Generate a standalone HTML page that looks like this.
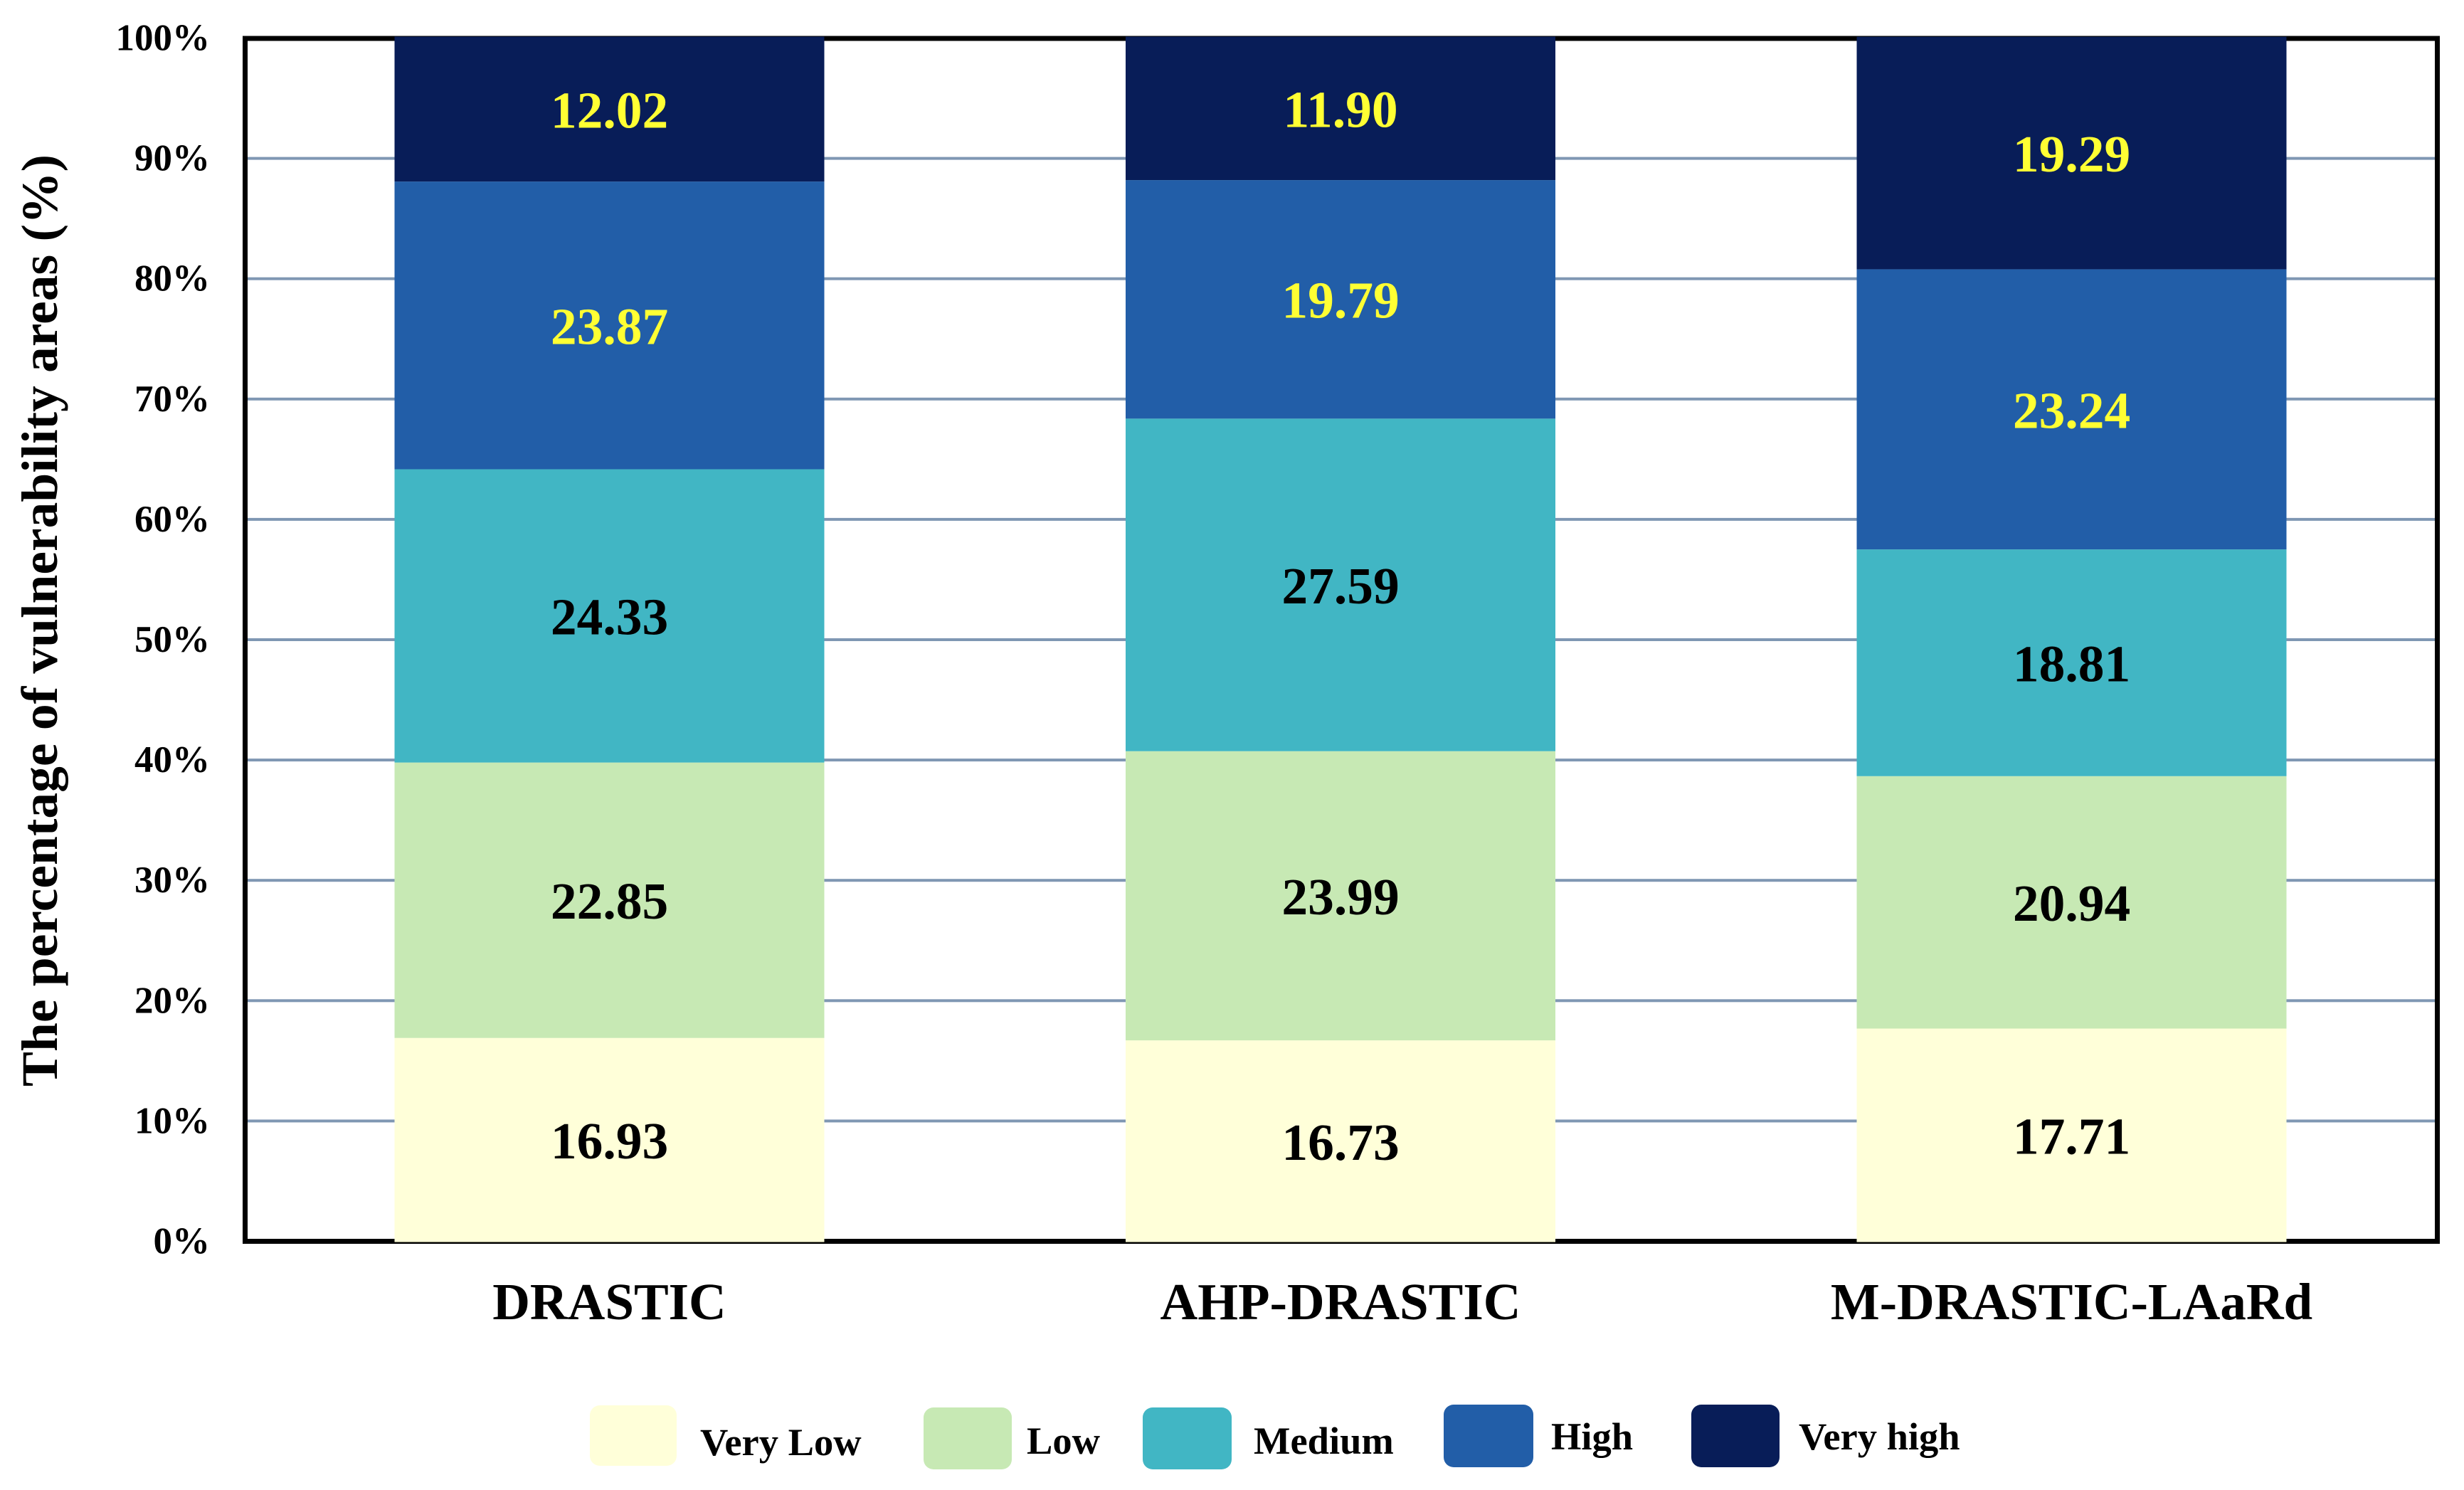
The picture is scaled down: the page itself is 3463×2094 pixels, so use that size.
<!DOCTYPE html>
<html lang="en">
<head>
<meta charset="utf-8">
<title>Vulnerability areas by model</title>
<style>
  html, body { margin: 0; padding: 0; background: #fff; }
  svg { display: block; font-family: "Liberation Serif", "DejaVu Serif", serif; font-weight: bold; }
</style>
</head>
<body>
<svg id="chart" xmlns="http://www.w3.org/2000/svg" width="3463" height="2094" viewBox="0 0 3463 2094">
  <rect x="0" y="0" width="3463" height="2094" fill="#ffffff"/>
  <g id="grid"></g>
  <rect x="344.5" y="54" width="3081" height="1690.5" fill="none" stroke="#000000" stroke-width="7"/>
  <g id="bars"></g>
  <g id="yticks"></g>
  <g id="xticks"></g>
  <text transform="translate(80,872) rotate(-90)" text-anchor="middle" font-size="72" fill="#000000" textLength="1310" lengthAdjust="spacingAndGlyphs">The percentage of vulnerability areas (%)</text>
  <g>
    <g>
      <rect x="829" y="1975" width="122" height="85" rx="14" fill="#ffffd9"/>
      <text x="984" y="2045" font-size="54.5" fill="#000000">Very Low</text>
    </g>
    <g>
      <rect x="1298" y="1978" width="124" height="87" rx="14" fill="#c7e9b4"/>
      <text x="1443" y="2043" font-size="54.5" fill="#000000">Low</text>
    </g>
    <g>
      <rect x="1606" y="1978" width="125" height="87" rx="14" fill="#41b6c4"/>
      <text x="1762" y="2043" font-size="54.5" fill="#000000">Medium</text>
    </g>
    <g>
      <rect x="2029" y="1974" width="126" height="88" rx="14" fill="#225ea8"/>
      <text x="2180" y="2037" font-size="54.5" fill="#000000">High</text>
    </g>
    <g>
      <rect x="2377" y="1974" width="124" height="88" rx="14" fill="#081d58"/>
      <text x="2528" y="2037" font-size="54.5" fill="#000000">Very high</text>
    </g>
  </g>
</svg>
<script>
// Chart data
var categories = ["DRASTIC", "AHP-DRASTIC", "M-DRASTIC-LAaRd"];
var veryLowValues = [16.93, 16.73, 17.71];
var lowValues = [22.85, 23.99, 20.94];
var mediumValues = [24.33, 27.59, 18.81];
var highValues = [23.87, 19.79, 23.24];
var veryHighValues = [12.02, 11.90, 19.29];
var seriesNames = ["very-low", "low", "medium", "high", "very-high"];
var seriesColors = ["#ffffd9", "#c7e9b4", "#41b6c4", "#225ea8", "#081d58"];
var seriesLabelColors = ["#000000", "#000000", "#000000", "#ffff33", "#ffff33"];
var yTickValues = [0, 10, 20, 30, 40, 50, 60, 70, 80, 90, 100];

var allSeries = [veryLowValues, lowValues, mediumValues, highValues, veryHighValues];
var NS = "http://www.w3.org/2000/svg";

function yBar(v) { return 1745.5 - v * 16.94; }
function yGrid(v) { return 1744.5 - v * 16.91; }
function xCenter(i) { return 856.5 + i * 1027.5; }
var BAR_WIDTH = 604;

function make(tag, attrs, parent) {
  var el = document.createElementNS(NS, tag);
  for (var k in attrs) { el.setAttribute(k, attrs[k]); }
  parent.appendChild(el);
  return el;
}

var gridG = document.getElementById("grid");
var yticksG = document.getElementById("yticks");
yTickValues.forEach(function (t) {
  if (t > 0 && t < 100) {
    var line = make("rect", { x: 348, y: yGrid(t) - 2, width: 3074, height: 4, fill: "#7f97b3" }, gridG);
    
    
  }
  var lab = make("text", { x: 295, y: yGrid(t) + 17, "text-anchor": "end", "font-size": 53, fill: "#000000" }, yticksG);
  
  
  lab.textContent = t + "%";
});

var barsG = document.getElementById("bars");
var xticksG = document.getElementById("xticks");
categories.forEach(function (cat, i) {
  var cum = 0;
  var cx = xCenter(i);
  allSeries.forEach(function (vals, s) {
    var v = vals[i];
    var yTop = yBar(cum + v);
    var yBot = yBar(cum);
    var seg = make("rect", { x: cx - BAR_WIDTH / 2, y: yTop, width: BAR_WIDTH, height: yBot - yTop, fill: seriesColors[s] }, barsG);
    
    
    var lab = make("text", { x: cx, y: (yTop + yBot) / 2 + 26, "text-anchor": "middle", "font-size": 73.5, fill: seriesLabelColors[s] }, barsG);
    
    
    lab.textContent = v.toFixed(2);
    cum += v;
  });
  var xl = make("text", { x: cx, y: 1854, "text-anchor": "middle", "font-size": 73, fill: "#000000" }, xticksG);
  
  
  xl.textContent = cat;
});
</script>
</body>
</html>
